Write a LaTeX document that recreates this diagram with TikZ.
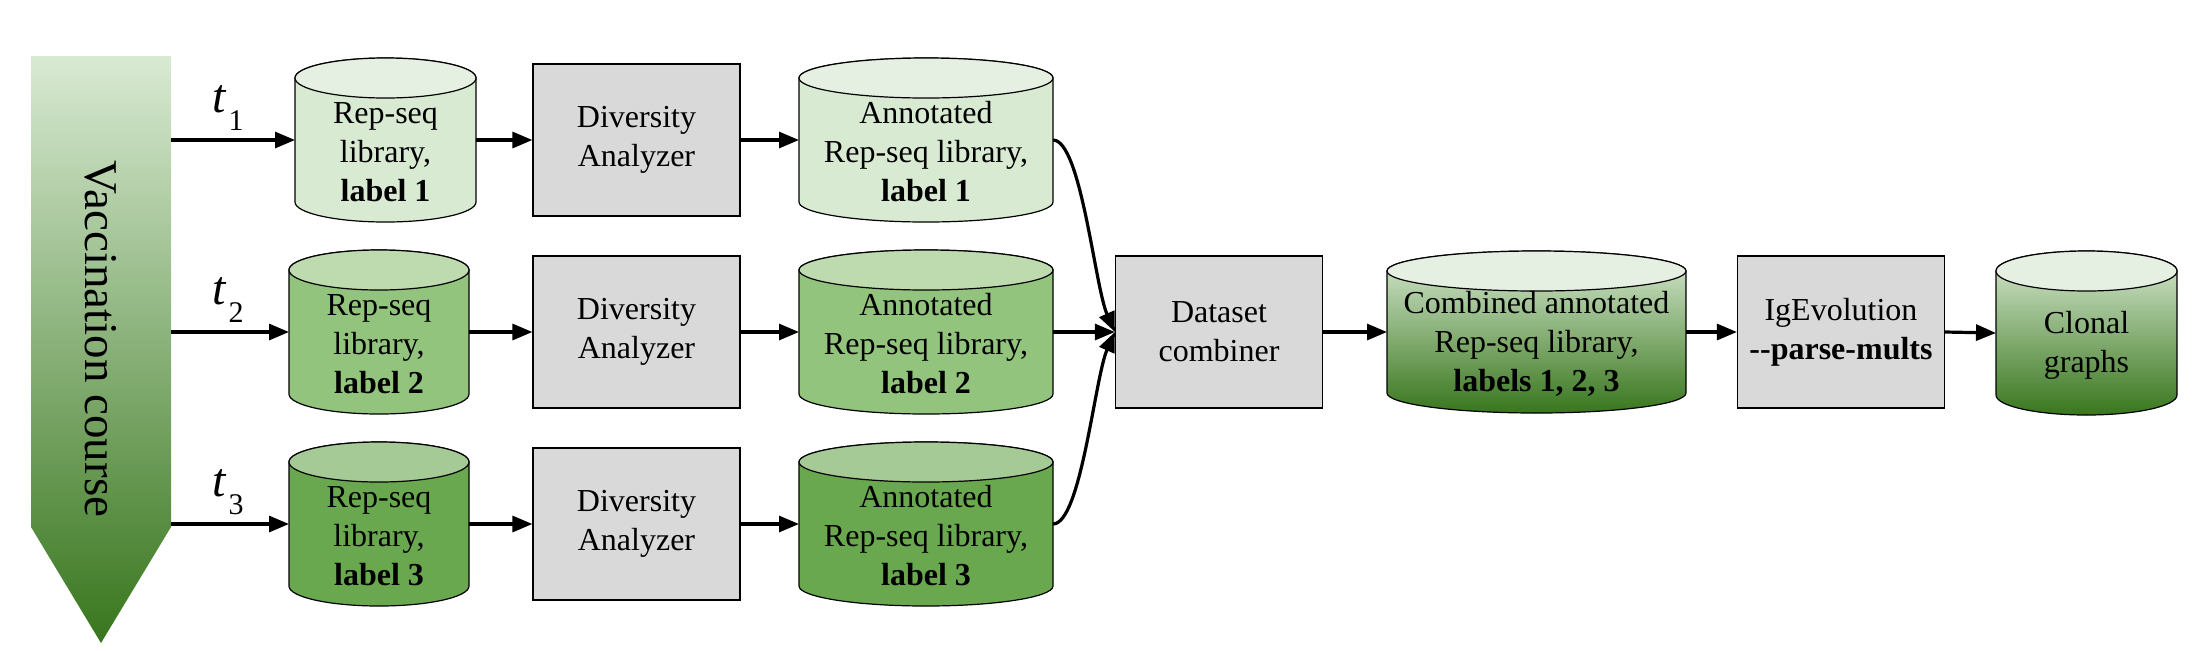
\documentclass[tikz,border=0pt]{standalone}
\usepackage{fontspec}
\setmainfont{Liberation Serif}[BoldFont={Liberation Serif Bold},ItalicFont={Liberation Serif Italic},BoldItalicFont={Liberation Serif Bold Italic}]
\usetikzlibrary{arrows.meta,calc}
\definecolor{gA}{HTML}{D9EAD3}
\definecolor{gAt}{HTML}{E6F0E2}
\definecolor{gB}{HTML}{93C47D}
\definecolor{gBt}{HTML}{BEDBB0}
\definecolor{gC}{HTML}{6AA84F}
\definecolor{gCt}{HTML}{A6CA96}
\definecolor{gD}{HTML}{38761D}
\definecolor{boxg}{HTML}{D9D9D9}
\newcommand\tsub[1]{{\fontsize{24pt}{24pt}\selectfont\itshape t}\kern1.5pt\raisebox{-9pt}{\fontsize{15pt}{15pt}\selectfont #1}}
% #1 name, #2 left, #3 right, #4 centre y, #5 height, #6 body style, #7 top colour, #8 text
\newcommand\cyl[8]{%
  \path[#6,shp] ({#2},{#4-#5/2+20}) -- ({#2},{#4+#5/2-20})
     arc[start angle=180,end angle=360,x radius={(#3-#2)/4*1pt},y radius=10pt]
     -- ({#3},{#4-#5/2+20})
     arc[start angle=0,end angle=180,x radius={(#3-#2)/4*1pt},y radius=10pt] -- cycle;
  \path[fill=#7,shp] ({(#2+#3)/2},{#4-#5/2+20}) ellipse[x radius={(#3-#2)/4*1pt},y radius=10pt];
  \node[inner sep=0pt,outer sep=0pt,minimum width={(#3-#2)/2*1pt},minimum height={#5/2*1pt}] (#1) at ({(#2+#3)/2},#4) {};
  \node[txt] (#1-t) at ({(#2+#3)/2},{#4+12}) {#8};
}
\begin{document}
\begin{tikzpicture}[x=0.5pt,y=-0.5pt,
  txt/.style={font=\fontsize{16pt}{19.5pt}\selectfont, align=center, inner sep=0pt},
  proc/.style={txt, draw=black, line width=0.6pt, fill=boxg, minimum width=103.5pt, minimum height=76pt},
  arr/.style={line width=1.6pt, -{Triangle[length=10pt,width=8pt]}},
  shp/.style={draw=black, line width=0.6pt},
  tlab/.style={anchor=base west, inner sep=0pt}]
\useasboundingbox (0,0) rectangle (2196,650);

% vaccination course arrow
\shade[top color=gA, bottom color=gD] (31,56) -- (171,56) -- (171,527) -- (101,643) -- (31,527) -- cycle;
\node[font=\fontsize{23.5pt}{23.5pt}\selectfont, rotate=-90] (vtext) at (101,339) {Vaccination course};
\coordinate (v1) at (171,140);
\coordinate (v2) at (171,332);
\coordinate (v3) at (171,524);

% input libraries
\cyl{c1}{295}{476}{140}{164}{fill=gA}{gAt}{Rep-seq\\library,\\\textbf{label 1}}
\cyl{c2}{289}{469}{332}{164}{fill=gB}{gBt}{Rep-seq\\library,\\\textbf{label 2}}
\cyl{c3}{289}{469}{524}{164}{fill=gC}{gCt}{Rep-seq\\library,\\\textbf{label 3}}

% diversity analyzers
\node[proc] (d1) at (636.5,140) {Diversity\\Analyzer};
\node[proc] (d2) at (636.5,332) {Diversity\\Analyzer};
\node[proc] (d3) at (636.5,524) {Diversity\\Analyzer};

% annotated libraries
\cyl{a1}{799}{1053}{140}{164}{fill=gA}{gAt}{Annotated\\Rep-seq library,\\\textbf{label 1}}
\cyl{a2}{799}{1053}{332}{164}{fill=gB}{gBt}{Annotated\\Rep-seq library,\\\textbf{label 2}}
\cyl{a3}{799}{1053}{524}{164}{fill=gC}{gCt}{Annotated\\Rep-seq library,\\\textbf{label 3}}

% right part
\node[proc] (dc) at (1219,332) {Dataset\\combiner};
\cyl{cb}{1387}{1686}{332}{162}{top color=gA,bottom color=gD}{gAt}{Combined annotated\\Rep-seq library,\\\textbf{labels 1, 2, 3}}
\node[proc] (ig) at (1841,332) {IgEvolution\\\textbf{\mbox{-}\mbox{-}parse-mults}};
\cyl{cl}{1996}{2177}{333}{164}{top color=gA,bottom color=gD}{gAt}{Clonal\\graphs}

% time labels
\node[tlab] (t1) at (212,112) {\tsub{1}};
\node[tlab] (t2) at (212,304) {\tsub{2}};
\node[tlab] (t3) at (212,496) {\tsub{3}};

% connectors
\draw[arr] (v1) -- (c1.west);
\draw[arr] (v2) -- (c2.west);
\draw[arr] (v3) -- (c3.west);
\draw[arr] (c1.east) -- (d1.west);
\draw[arr] (c2.east) -- (d2.west);
\draw[arr] (c3.east) -- (d3.west);
\draw[arr] (d1.east) -- (a1.west);
\draw[arr] (d2.east) -- (a2.west);
\draw[arr] (d3.east) -- (a3.west);
\draw[arr] (a1.east) .. controls +(28,0) and +(-20,-45) .. (dc.west);
\draw[arr] (a2.east) -- (dc.west);
\draw[arr] (a3.east) .. controls +(28,0) and +(-20,45) .. (dc.west);
\draw[arr] (dc.east) -- (cb.west);
\draw[arr] (cb.east) -- (ig.west);
\draw[arr] (ig.east) -- (cl.west);
\end{tikzpicture}
\end{document}
